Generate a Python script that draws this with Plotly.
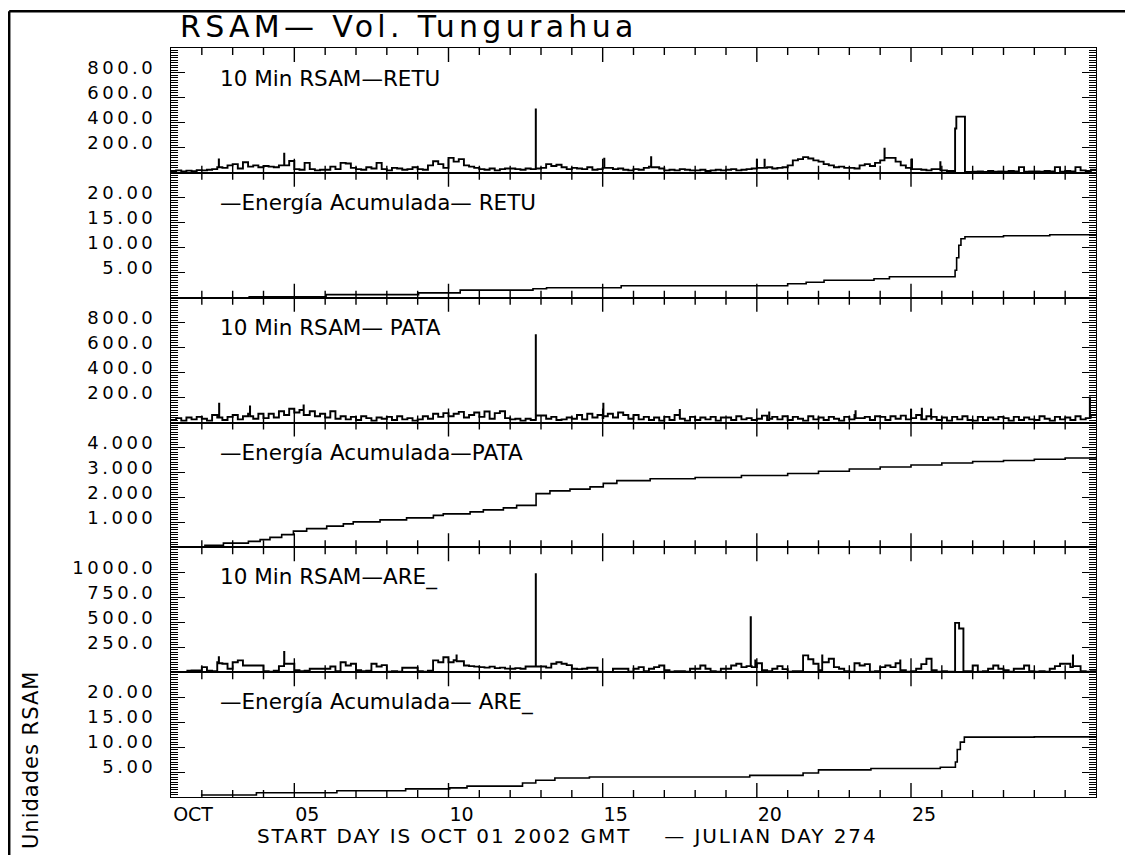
import plotly.graph_objects as go
from plotly.subplots import make_subplots

# ---------------- data ----------------
# 10-minute RSAM, resampled by eye to 6 readings per day (every 4 h), days since 2002-10-01 00:00 GMT
SAMPLES_PER_DAY = 6
N_DAYS = 30

retu_rsam = [
    15, 20, 12, 18, 14, 22,   20, 25, 30, 45, 40, 60,   70, 35, 85, 50, 60, 45,
    55, 50, 45, 60, 60, 95,   30, 25, 80, 30, 20, 25,   25, 50, 30, 80, 75, 40,
    30, 25, 45, 35, 80, 30,   20, 40, 35, 25, 30, 45,   30, 25, 60, 93, 70, 40,
    120, 90, 110, 60, 50, 40, 30, 25, 35, 20, 30, 35,   35, 30, 25, 35, 30, 35,
    40, 70, 55, 65, 45, 30,   40, 35, 30, 45, 25, 30,   40, 40, 30, 35, 25, 20,
    30, 25, 40, 50, 45, 35,   20, 25, 20, 30, 25, 20,   20, 25, 15, 20, 25, 20,
    25, 30, 20, 25, 30, 35,   40, 40, 45, 35, 40, 45,   60, 100, 110, 126, 115, 100,
    90, 70, 60, 45, 50, 40,   40, 35, 60, 70, 55, 80,   100, 120, 120, 90, 60, 40,
    30, 30, 25, 20, 30, 30,   20, 15, 15, 450, 450, 8,  10, 12, 8, 15, 10, 12,
    10, 15, 12, 46, 10, 12,   12, 10, 15, 12, 46, 10,   15, 12, 46, 20, 15, 25,
]
retu_event_t = [1.55, 1.555, 3.67, 3.675, 11.83, 11.836, 14.05, 14.055, 15.57, 15.575,
                19.0, 19.005, 19.25, 19.255, 23.14, 23.145, 24.03, 24.035, 24.95, 24.955,
                25.43, 25.47, 25.75]
retu_event_v = [108, 45, 153, 60, 508, 35, 113, 40, 126, 45,
                105, 40, 105, 40, 194, 120, 108, 30, 86, 20,
                355, 450, 8]

pata_rsam = [
    20, 35, 15, 40, 25, 45,   30, 15, 60, 40, 20, 45,   60, 25, 50, 70, 30, 70,
    35, 70, 40, 90, 60, 110,  80, 100, 60, 90, 50, 70,  40, 90, 30, 50, 25, 45,
    20, 50, 35, 15, 40, 30,   45, 20, 50, 25, 35, 15,   25, 50, 30, 70, 45, 75,
    50, 70, 85, 40, 60, 80,   45, 88, 30, 75, 90, 35,   25, 30, 15, 30, 20, 30,
    56, 30, 45, 20, 25, 40,   30, 60, 25, 70, 40, 60,   35, 70, 40, 80, 60, 30,
    60, 25, 45, 20, 40, 15,   45, 20, 60, 30, 15, 45,   20, 40, 25, 45, 15, 40,
    40, 20, 50, 25, 35, 20,   30, 55, 20, 45, 25, 50,   20, 45, 30, 15, 50, 25,
    40, 20, 45, 30, 15, 45,   25, 60, 35, 45, 20, 50,   45, 20, 50, 30, 55, 25,
    35, 60, 25, 50, 45, 20,   40, 15, 45, 25, 50, 20,   15, 45, 20, 40, 25, 45,
    35, 15, 45, 20, 40, 25,   20, 50, 30, 15, 45, 25,   40, 20, 50, 25, 35, 60,
]
pata_event_t = [1.56, 1.565, 2.56, 2.565, 4.3, 4.305, 11.83, 11.836, 14.02, 14.025,
                16.5, 16.505, 19.4, 19.405, 22.2, 22.205, 24.0, 24.005, 24.35, 24.355,
                24.65, 24.655, 29.8, 29.805]
pata_event_v = [150, 40, 128, 50, 136, 60, 700, 56, 150, 50,
                100, 30, 80, 30, 90, 35, 100, 35, 110, 25,
                105, 30, 200, 40]

are_rsam = [
    None, None, None, 15, 17, 17,  50, 15, 10, 100, 84, 34,  100, 118, 67, 67, 67, 67,
    10, 5, 15, 60, 84, 84,    20, 10, 15, 34, 34, 34,   34, 57, 10, 100, 67, 84,
    20, 10, 15, 84, 57, 70,   5, 10, 5, 44, 44, 44,     10, 5, 15, 118, 100, 150,
    100, 120, 110, 67, 60, 55, 50, 45, 55, 40, 45, 35,  34, 40, 34, 57, 57, 57,
    57, 45, 84, 100, 84, 70,  34, 30, 34, 44, 44, 5,    0, 0, 34, 34, 34, 5,
    34, 50, 10, 34, 50, 67,   20, 5, 10, 10, 5, 34,     34, 67, 34, 10, 5, 34,
    34, 67, 84, 50, 60, 50,   90, 20, 10, 34, 60, 30,   5, 10, 10, 168, 130, 84,
    20, 100, 134, 50, 34, 10, 5, 90, 67, 80, 5, 10,     50, 67, 50, 90, 20, 5,
    10, 34, 80, 134, 20, 5,   10, 5, 5, 494, 437, 10,   67, 5, 10, 34, 67, 34,
    20, 5, 34, 34, 67, 10,    5, 10, 5, 34, 60, 84,     84, 50, 60, 10, 5, 10,
]
are_event_t = [1.55, 1.555, 3.67, 3.675, 9.26, 9.265, 11.83, 11.836, 18.80, 18.806,
               18.95, 18.955, 21.12, 21.125, 23.65, 23.655, 25.43, 25.56, 25.70,
               29.25, 29.255]
are_event_v = [151, 90, 202, 84, 168, 110, 980, 57, 550, 60,
               118, 50, 168, 100, 118, 20, 494, 437, 10,
               168, 60]

# accumulated energy (step curves)
retu_cum_t = [2.51, 5.03, 8.03, 9.38, 11.74, 12.18, 14.6, 20.0, 20.6, 21.18, 22.8, 23.3,
              25.43, 25.48, 25.55, 25.62, 25.75, 27.0, 28.5, 30.0]
retu_cum_v = [0.15, 0.6, 0.95, 1.5, 1.8, 2.0, 2.4, 2.8, 3.1, 3.5, 3.8, 4.2,
              5.5, 8.0, 10.5, 11.8, 12.2, 12.4, 12.6, 12.7]

pata_cum_t = [0.24, 1.10, 1.70, 2.51, 2.89, 3.21, 3.59, 3.97, 4.40, 5.05, 5.59, 5.91, 6.78,
              7.64, 8.51, 8.83, 9.70, 10.13, 10.78, 11.21, 11.84, 12.29, 12.94, 13.59,
              14.02, 14.46, 15.54, 17.0, 18.5, 20.0, 21.0, 22.0, 23.0, 24.0, 25.0, 26.0,
              27.0, 28.0, 29.0, 30.0]
pata_cum_v = [0.0, 0.08, 0.17, 0.24, 0.31, 0.40, 0.51, 0.65, 0.75, 0.85, 0.94, 1.02, 1.10,
              1.18, 1.28, 1.34, 1.42, 1.50, 1.58, 1.68, 2.15, 2.26, 2.33, 2.42,
              2.56, 2.67, 2.75, 2.80, 2.88, 2.96, 3.05, 3.14, 3.22, 3.30, 3.38, 3.44,
              3.48, 3.53, 3.58, 3.63]

are_cum_t = [0.97, 2.77, 5.38, 7.61, 9.04, 9.6, 11.4, 11.83, 12.45, 13.57, 18.77, 20.5,
             21.0, 22.7, 24.95, 25.44, 25.5, 25.6, 25.73, 28.0, 30.0]
are_cum_v = [0.4, 0.85, 1.24, 1.63, 1.83, 2.17, 2.8, 3.35, 3.8, 4.0, 4.33, 4.8,
             5.44, 5.7, 5.97, 7.0, 9.5, 11.0, 12.0, 12.05, 12.1]

# axis labels
x_tick_vals = [0, 4, 9, 14, 19, 24]
x_tick_text = ["OCT", "05", "10", "15", "20", "25"]
x_day_ticks = list(range(1, N_DAYS))          # one tick mark per day

panel_titles = [
    "10 Min RSAM\u2014RETU",
    "\u2014Energía Acumulada\u2014 RETU",
    "10 Min RSAM\u2014 PATA",
    "\u2014Energía Acumulada\u2014PATA",
    "10 Min RSAM\u2014ARE_",
    "\u2014Energía Acumulada\u2014 ARE_",
]
y_ranges = [[0, 1000], [0, 25], [0, 1000], [0, 5], [0, 1250], [0, 25]]
y_tick_vals = [
    [200, 400, 600, 800],
    [5, 10, 15, 20],
    [200, 400, 600, 800],
    [1, 2, 3, 4],
    [250, 500, 750, 1000],
    [5, 10, 15, 20],
]
y_tick_text = [
    ["200.0", "400.0", "600.0", "800.0"],
    ["5.00", "10.00", "15.00", "20.00"],
    ["200.0", "400.0", "600.0", "800.0"],
    ["1.000", "2.000", "3.000", "4.000"],
    ["250.0", "500.0", "750.0", "1000.0"],
    ["5.00", "10.00", "15.00", "20.00"],
]
y_minor_dtick = [20, 0.5, 20, 0.1, 25, 0.5]

TITLE = "RSAM\u2014 Vol. Tungurahua"
FOOTER = "START DAY IS OCT 01 2002 GMT\u00a0\u00a0\u00a0\u00a0\u2014 JULIAN DAY 274"
YLABEL = "Unidades RSAM"

# ---------------- figure ----------------
FONT = "DejaVu Sans"
PAGE = 8                      # default page margin of the browser body
W, H = 1133 - PAGE, 855 - PAGE
# plot area in screen pixels: x 171..1096, y 48..797
ML, MT = 171 - PAGE, 48 - PAGE
MR, MB = W - (1096 - PAGE), H - (797 - PAGE)
PW, PH = W - ML - MR, H - MT - MB
PANEL_H = PH / 6
MAJOR_LEN, MINOR_LEN = 14, 7


def sx(px):                   # screen x -> paper
    return (px - PAGE - ML) / PW


def sy(py):                   # screen y -> paper
    return (H - MB - (py - PAGE)) / PH


def spaced(s, px):
    return f'<span style="letter-spacing:{px}px">{s}</span>'


def left_aligned(label):
    # pad the front so a centred tick label starts right at its tick
    n = 3 if len(label) >= 3 else 0
    return "\u00a0" * n + label


def merge(grid, ev_t, ev_v):
    pts = [(i / SAMPLES_PER_DAY, 0, v) for i, v in enumerate(grid)]
    pts += [(t, 1, v) for t, v in zip(ev_t, ev_v)]
    pts.sort(key=lambda p: (p[0], p[1]))
    return [p[0] for p in pts] + [N_DAYS], [p[2] for p in pts] + [pts[-1][2]]


def day_tick_path(y_range):
    # inward tick marks on the bottom and top edges of a panel, one per day
    lo, hi = y_range
    span = hi - lo
    xs, ys = [], []
    for d in x_day_ticks:
        ln = (MAJOR_LEN if d in x_tick_vals else MINOR_LEN) / PANEL_H * span
        xs += [d, d, None, d, d, None]
        ys += [lo, lo + ln, None, hi - ln, hi, None]
    return xs, ys


fig = make_subplots(rows=6, cols=1, shared_xaxes=True, vertical_spacing=0)

series = [
    merge(retu_rsam, retu_event_t, retu_event_v),
    (retu_cum_t, retu_cum_v),
    merge(pata_rsam, pata_event_t, pata_event_v),
    (pata_cum_t, pata_cum_v),
    merge(are_rsam, are_event_t, are_event_v),
    (are_cum_t, are_cum_v),
]
for i, (tx, vy) in enumerate(series):
    fig.add_trace(
        go.Scatter(x=tx, y=vy, mode="lines",
                   line=dict(color="black", width=1.9 if i % 2 == 0 else 1.6, shape="hv"),
                   showlegend=False, hoverinfo="skip", connectgaps=False),
        row=i + 1, col=1,
    )
    kx, ky = day_tick_path(y_ranges[i])
    fig.add_trace(
        go.Scatter(x=kx, y=ky, mode="lines", line=dict(color="black", width=1.4),
                   showlegend=False, hoverinfo="skip", connectgaps=False),
        row=i + 1, col=1,
    )

for i in range(6):
    r = i + 1
    fig.update_xaxes(
        range=[0, N_DAYS], tickmode="array", tickvals=x_tick_vals,
        ticktext=[left_aligned(s) for s in x_tick_text],
        ticks="", ticklabelshift=13, ticklabelstandoff=0,
        showline=True, linecolor="black", linewidth=1.2, mirror=True,
        showgrid=False, zeroline=False,
        showticklabels=(r == 6),
        tickfont=dict(family=FONT, size=19, color="black"),
        row=r, col=1,
    )
    fig.update_yaxes(
        range=y_ranges[i], tickmode="array", tickvals=y_tick_vals[i],
        ticktext=[spaced(s, 3.5) for s in y_tick_text[i]],
        showline=True, linecolor="black", linewidth=1.2, mirror="ticks",
        showgrid=False, zeroline=False,
        ticks="inside", ticklen=MAJOR_LEN, tickcolor="black", tickwidth=1.3,
        minor=dict(dtick=y_minor_dtick[i], tick0=0, ticklen=MINOR_LEN, ticks="inside",
                   tickcolor="black", tickwidth=1.1),
        ticklabelshift=-5, ticklabelstandoff=10,
        tickfont=dict(family=FONT, size=18, color="black"),
        row=r, col=1,
    )
    yname = "y" if r == 1 else f"y{r}"
    xname = "x" if r == 1 else f"x{r}"
    fig.add_annotation(
        text=panel_titles[i], xref=f"{xname} domain", yref=f"{yname} domain",
        x=(218 - 171) / PW, y=1 - 30 / PANEL_H, xanchor="left", yanchor="middle",
        showarrow=False, font=dict(family=FONT, size=21.5, color="black"),
    )

fig.add_annotation(
    text=spaced(TITLE, 4.3), xref="paper", yref="paper",
    x=sx(178), y=sy(26), xanchor="left", yanchor="middle",
    showarrow=False, font=dict(family=FONT, size=30, color="black"),
)
fig.add_annotation(
    text=spaced(FOOTER, 1.9), xref="paper", yref="paper",
    x=sx(255), y=sy(835.5), xanchor="left", yanchor="middle",
    showarrow=False, font=dict(family=FONT, size=20, color="black"),
)
fig.add_annotation(
    text=spaced(YLABEL, 1.0), xref="paper", yref="paper", textangle=-90,
    x=sx(31), y=sy(760), xanchor="center", yanchor="middle",
    showarrow=False, font=dict(family=FONT, size=21, color="black"),
)

# partial outer frame (top and left edges)
fx0 = sx(9.2)
fy0 = sy(11.2)
fig.add_shape(type="line", xref="paper", yref="paper", x0=fx0, x1=sx(1133), y0=fy0, y1=fy0,
              line=dict(color="black", width=2.5))
fig.add_shape(type="line", xref="paper", yref="paper", x0=fx0, x1=fx0, y0=fy0, y1=sy(855),
              line=dict(color="black", width=2.5))

fig.update_layout(
    width=W, height=H, margin=dict(l=ML, r=MR, t=MT, b=MB),
    paper_bgcolor="white", plot_bgcolor="white",
    font=dict(family=FONT, color="black"),
)

fig.write_html("out.html")
